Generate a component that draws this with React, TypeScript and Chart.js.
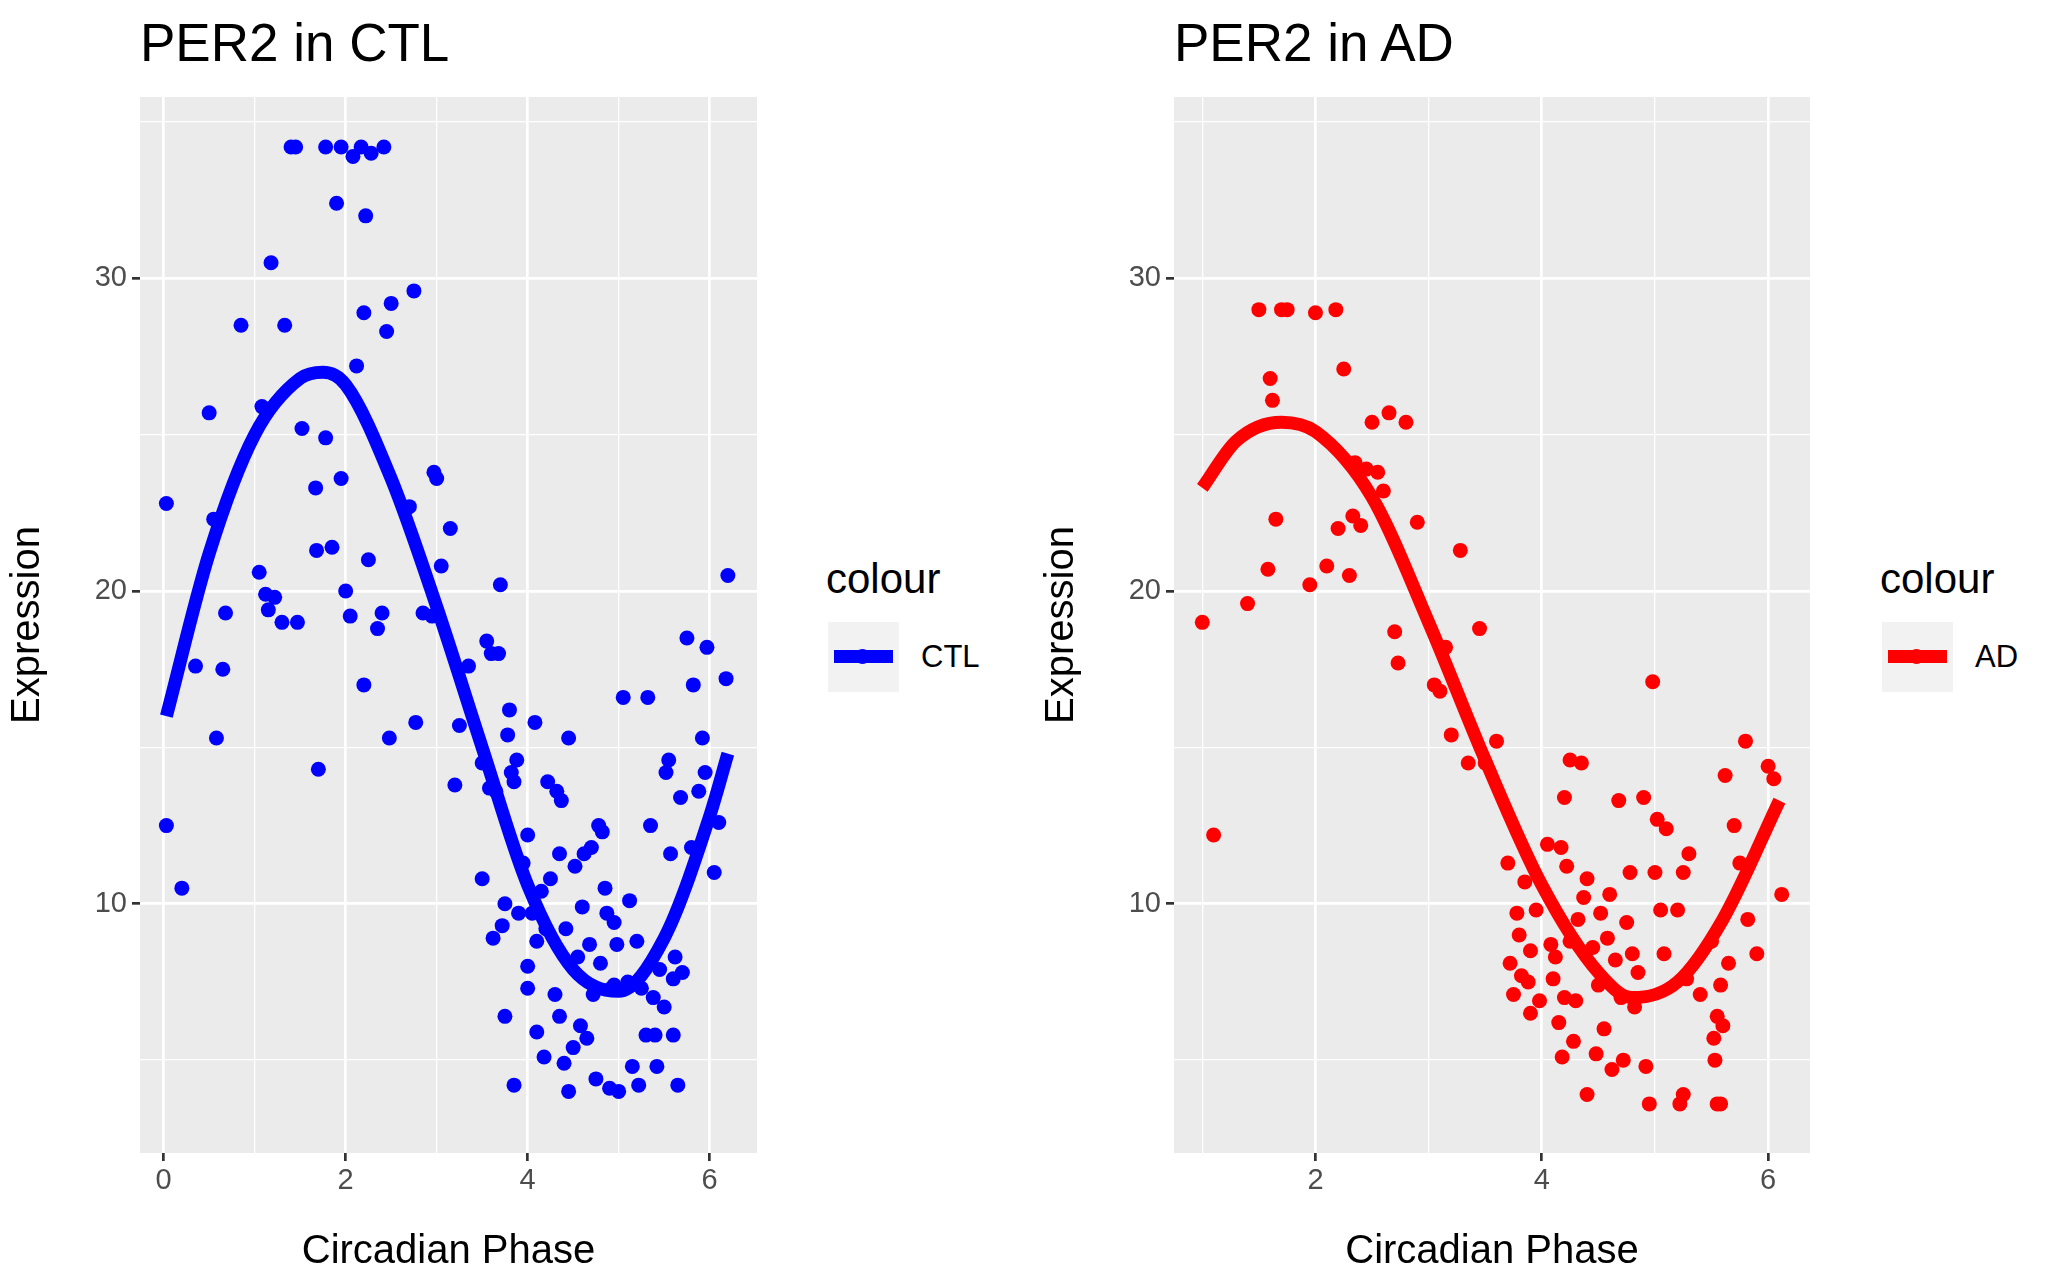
import React, { useEffect, useRef } from "react";
import { Chart, registerables } from "chart.js";
Chart.register(...registerables);

const ctlPoints: [number, number][] = [
[0.03,22.8],[0.03,12.5],[0.2,10.5],[0.35,17.6],[0.5,25.7],[0.55,22.3],[0.58,15.3],[0.65,17.5],[0.68,19.3],[0.85,28.5],[1.05,20.6],[1.08,25.9],[1.12,19.9],[1.15,19.4],[1.18,30.5],[1.22,19.8],[1.3,19],[1.33,28.5],[1.4,34.2],[1.45,34.2],[1.47,19],[1.52,25.2],[1.67,23.3],[1.68,21.3],[1.7,14.3],[1.78,24.9],[1.78,34.2],[1.85,21.4],[1.9,32.4],[1.95,23.6],[1.95,34.2],[2.0,20],[2.05,19.2],[2.08,33.9],[2.12,27.2],[2.17,34.2],[2.2,17],[2.2,28.9],[2.22,32],[2.25,21],[2.28,34],[2.35,18.8],[2.4,19.3],[2.42,34.2],[2.45,28.3],[2.48,15.3],[2.5,29.2],[2.7,22.7],[2.75,29.6],[2.77,15.8],[2.85,19.3],[2.95,19.2],[2.97,23.8],[3.0,23.6],[3.05,20.8],[3.15,22],[3.2,13.8],[3.25,15.7],[3.35,17.6],[3.5,10.8],[3.5,14.5],[3.55,18.4],[3.58,13.7],[3.6,18],[3.62,8.9],[3.65,13.6],[3.68,18],[3.7,20.2],[3.72,9.3],[3.75,10],[3.75,6.4],[3.78,15.4],[3.8,16.2],[3.82,14.2],[3.85,13.9],[3.85,4.2],[3.88,14.6],[3.9,9.7],[3.95,11.3],[4.0,12.2],[4.0,8.0],[4.0,7.3],[4.05,9.7],[4.08,15.8],[4.1,8.8],[4.1,5.9],[4.15,10.4],[4.18,5.1],[4.2,9.2],[4.22,13.9],[4.25,10.8],[4.3,7.1],[4.32,13.6],[4.35,11.6],[4.35,6.4],[4.37,13.3],[4.4,4.9],[4.42,9.2],[4.45,15.3],[4.45,4.0],[4.5,5.4],[4.52,11.2],[4.55,8.3],[4.58,6.1],[4.6,9.9],[4.62,11.6],[4.65,5.7],[4.68,8.7],[4.7,11.8],[4.72,7.1],[4.75,4.4],[4.78,12.5],[4.8,8.1],[4.82,12.3],[4.85,10.5],[4.87,9.7],[4.9,4.1],[4.92,7.3],[4.95,9.4],[4.98,8.7],[5.05,16.6],[5.1,7.5],[5.12,10.1],[5.15,4.8],[5.2,8.8],[5.22,4.2],[5.25,7.3],[5.3,5.8],[5.32,16.6],[5.35,12.5],[5.38,7.0],[5.4,5.8],[5.42,4.8],[5.45,7.9],[5.5,6.7],[5.52,14.2],[5.55,14.6],[5.57,11.6],[5.6,5.8],[5.62,8.3],[5.65,4.2],[5.68,13.4],[5.7,7.8],[5.75,18.5],[5.8,11.8],[5.82,17],[5.88,13.6],[5.92,15.3],[5.95,14.2],[5.97,18.2],[6.05,11],[6.1,12.6],[6.18,17.2],[6.2,20.5],[5.0,4.0],[5.6,7.6],[4.95,7.4]];

const adPoints: [number, number][] = [
[1.0,19],[1.1,12.2],[1.4,19.6],[1.5,29],[1.7,29],[1.75,29],[1.58,20.7],[1.6,26.8],[1.62,26.1],[1.65,22.3],[1.95,20.2],[2.0,28.9],[2.1,20.8],[2.2,22],[2.18,29],[2.25,27.1],[2.3,20.5],[2.33,22.4],[2.35,24.1],[2.4,22.1],[2.45,23.9],[2.5,25.4],[2.55,23.8],[2.6,23.2],[2.65,25.7],[2.7,18.7],[2.73,17.7],[2.8,25.4],[2.9,22.2],[3.05,17],[3.1,16.8],[3.15,18.2],[3.2,15.4],[3.28,21.3],[3.35,14.5],[3.45,18.8],[3.5,14.5],[3.6,15.2],[3.7,11.3],[3.72,8.1],[3.75,7.1],[3.78,9.7],[3.8,9.0],[3.82,7.7],[3.85,10.7],[3.88,7.5],[3.9,6.5],[3.9,8.5],[3.95,9.8],[3.98,6.9],[4.05,11.9],[4.08,8.7],[4.1,7.6],[4.12,8.3],[4.15,6.2],[4.17,11.8],[4.18,5.1],[4.2,13.4],[4.22,11.2],[4.25,14.6],[4.25,8.8],[4.28,5.6],[4.3,6.9],[4.32,9.5],[4.35,14.5],[4.37,10.2],[4.4,10.8],[4.4,3.9],[4.45,8.6],[4.48,5.2],[4.5,7.4],[4.52,9.7],[4.55,6],[4.58,8.9],[4.6,10.3],[4.62,4.7],[4.65,8.2],[4.68,13.3],[4.7,7.0],[4.72,5.0],[4.75,9.4],[4.78,11],[4.8,8.4],[4.82,6.7],[4.85,7.8],[4.9,13.4],[4.92,4.8],[4.95,3.6],[4.98,17.1],[5.0,11],[5.02,12.7],[5.05,9.8],[5.08,8.4],[5.1,12.4],[5.2,9.8],[5.22,3.6],[5.25,11],[5.28,7.6],[5.3,11.6],[5.4,7.1],[5.5,8.8],[5.52,5.7],[5.55,6.4],[5.55,3.6],[5.58,7.4],[5.6,6.1],[5.62,14.1],[5.65,8.1],[5.7,12.5],[5.75,11.3],[5.8,15.2],[5.82,9.5],[5.9,8.4],[6.0,14.4],[6.05,14],[6.12,10.3],[5.53,5.0],[5.25,3.9],[5.58,3.6],[4.2,7.0]];

const ctlCurve: [number, number][] = [[0.03,16],[0.5,21.2],[1,25],[1.5,26.8],[1.75,27],[2,26.6],[2.5,23.6],[3,19.5],[3.5,15],[4,10.6],[4.5,7.9],[5,7.2],[5.5,8.9],[6,12.8],[6.2,14.8]];
const adCurve: [number, number][] = [[1.0,23.3],[1.3,24.8],[1.7,25.4],[2,25.1],[2.5,23],[3,19],[3.5,14.6],[4,10.6],[4.5,7.8],[4.8,7.0],[5.2,7.5],[5.6,9.5],[6.1,13.3]];

const yTicks = [5, 10, 15, 20, 25, 30, 35];
const ctlXTicks = [0, 1, 2, 3, 4, 5, 6];
const adXTicks = [1, 2, 3, 4, 5, 6];

const FONT = "'Liberation Sans', Arial, sans-serif";

const bgPlugin = {
  id: "panelBg",
  beforeDraw(chart: any) {
    const { ctx, chartArea: a } = chart;
    ctx.save();
    ctx.fillStyle = "#ebebeb";
    ctx.fillRect(a.left, a.top, a.right - a.left, a.bottom - a.top);
    ctx.restore();
  },
};

function Panel(props: { pts: [number, number][]; curve: [number, number][]; color: string; xmin: number; xmax: number; xTicks: number[]; width: number }) {
  const ref = useRef<HTMLCanvasElement>(null);
  useEffect(() => {
    const major = (v: number, isX: boolean) => (isX ? v % 2 === 0 : v % 10 === 0);
    const grid = (isX: boolean) => ({
      color: "#ffffff",
      lineWidth: (c: any) => (major(c.tick.value, isX) ? 2.7 : 1.3),
      tickColor: (c: any) => (major(c.tick.value, isX) ? "#333333" : "rgba(0,0,0,0)"),
      tickLength: 8,
      tickWidth: 2.7,
      drawTicks: true,
    });
    const chart = new Chart(ref.current!, {
      type: "scatter",
      data: {
        datasets: [
          { type: "line", data: props.curve.map(([x, y]) => ({ x, y })), borderColor: props.color, borderWidth: 13, pointRadius: 0, cubicInterpolationMode: "monotone", fill: false, order: 0 } as any,
          { data: props.pts.map(([x, y]) => ({ x, y })), backgroundColor: props.color, borderColor: props.color, pointRadius: 7.5, borderWidth: 0, order: 1 },
        ],
      },
      options: {
        animation: false,
        responsive: false,
        layout: { padding: { top: 97, right: 13, left: 0, bottom: 0 } },
        plugins: { legend: { display: false }, tooltip: { enabled: false } },
        scales: {
          x: {
            type: "linear", min: props.xmin, max: props.xmax,
            afterBuildTicks: (s: any) => { s.ticks = props.xTicks.map((v) => ({ value: v })); },
            afterFit: (s: any) => { s.height = 127; },
            grid: grid(true) as any,
            border: { display: false },
            ticks: { color: "#4d4d4d", font: { family: FONT, size: 29 }, padding: 3, callback: (v: any) => (Number(v) % 2 === 0 ? String(v) : "") },
            title: { display: true, text: "Circadian Phase", color: "#000", font: { family: FONT, size: 40 }, padding: { top: 0 } },
          },
          y: {
            type: "linear", min: 2.03, max: 35.8,
            afterBuildTicks: (s: any) => { s.ticks = yTicks.map((v) => ({ value: v })); },
            afterFit: (s: any) => { s.width = 140; },
            grid: grid(false) as any,
            border: { display: false },
            ticks: { color: "#4d4d4d", font: { family: FONT, size: 29 }, padding: 5, callback: (v: any) => (Number(v) % 10 === 0 ? String(v) : "") },
            title: { display: true, text: "Expression", color: "#000", font: { family: FONT, size: 40 }, padding: { bottom: 4 } },
          },
        },
      },
      plugins: [bgPlugin],
    });
    return () => chart.destroy();
  }, []);
  return <canvas ref={ref} width={props.width} height={1280} style={{ display: "block" }} />;
}

function Legend(props: { left: number; color: string; label: string }) {
  return (
    <>
      <div style={{ position: "absolute", left: props.left, top: 555, fontSize: 42, fontFamily: FONT }}>colour</div>
      <div style={{ position: "absolute", left: props.left + 2, top: 622, width: 71, height: 70, background: "#f2f2f2" }}>
        <div style={{ position: "absolute", left: 6, top: 28, width: 59, height: 13, background: props.color }} />
        <div style={{ position: "absolute", left: 27, top: 27, width: 15, height: 15, borderRadius: 8, background: props.color }} />
      </div>
      <div style={{ position: "absolute", left: props.left + 95, top: 639, fontSize: 31, fontFamily: FONT }}>{props.label}</div>
    </>
  );
}

export default function App() {
  return (
    <div style={{ position: "fixed", left: 0, top: 0, width: 2071, height: 1280, background: "#fff", overflow: "hidden" }}>
      <div style={{ position: "absolute", left: 0, top: 0 }}>
        <Panel pts={ctlPoints} curve={ctlCurve} color="#0000ff" xmin={-0.26} xmax={6.52} xTicks={ctlXTicks} width={770} />
      </div>
      <div style={{ position: "absolute", left: 1034, top: 0 }}>
        <Panel pts={adPoints} curve={adCurve} color="#ff0000" xmin={0.75} xmax={6.37} xTicks={adXTicks} width={789} />
      </div>
      <div style={{ position: "absolute", left: 140, top: 12, fontSize: 53, fontFamily: FONT }}>PER2 in CTL</div>
      <div style={{ position: "absolute", left: 1174, top: 12, fontSize: 53, fontFamily: FONT }}>PER2 in AD</div>
      <Legend left={826} color="#0000ff" label="CTL" />
      <Legend left={1880} color="#ff0000" label="AD" />
    </div>
  );
}
